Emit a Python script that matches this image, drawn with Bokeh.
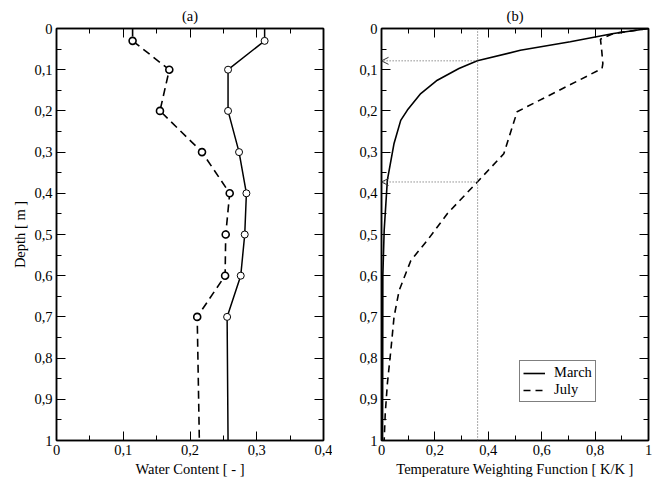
from bokeh.plotting import figure
from bokeh.models import (Range1d, LinearAxis, FixedTicker, CustomJSTickFormatter,
                          Arrow, OpenHead, Legend, LegendItem, Span)
from bokeh.layouts import row
from bokeh.embed import file_html
from bokeh.resources import INLINE

# ---------------- data ----------------
# panel (a): water content profiles
depth_pts = [0.03, 0.1, 0.2, 0.3, 0.4, 0.5, 0.6, 0.7]
wc_dashed = [0.114, 0.169, 0.155, 0.218, 0.2595, 0.2535, 0.2526, 0.2108]
wc_solid = [0.3118, 0.257, 0.257, 0.2735, 0.2845, 0.282, 0.276, 0.2556]
# line continuations to surface and bottom
dashed_line_depth = [0.0] + depth_pts + [1.0]
dashed_line_wc = [0.114] + wc_dashed + [0.214]
solid_line_depth = [0.0] + depth_pts + [1.0]
solid_line_wc = [0.3118] + wc_solid + [0.257]

# panel (b): temperature weighting function
march_depth = [0.0, 0.012, 0.032, 0.053, 0.0785, 0.097, 0.1255, 0.158, 0.198, 0.223,
               0.279, 0.368, 0.49, 0.6, 1.0]
march_w = [1.0, 0.869, 0.707, 0.52, 0.359, 0.29, 0.209, 0.147, 0.097, 0.072,
           0.047, 0.022, 0.01, 0.005, 0.004]
july_depth = [0.0, 0.012, 0.026, 0.055, 0.085, 0.097, 0.202, 0.304, 0.3725, 0.449,
              0.514, 0.563, 0.636, 0.700, 0.781, 0.862, 0.935, 1.0]
july_w = [1.0, 0.87, 0.82, 0.825, 0.829, 0.826, 0.508, 0.458, 0.359, 0.247,
          0.172, 0.11, 0.066, 0.047, 0.035, 0.022, 0.014, 0.01]
ref_w = 0.36
ref_depths = [0.0785, 0.3725]

depth_ticks = [0, 0.1, 0.2, 0.3, 0.4, 0.5, 0.6, 0.7, 0.8, 0.9, 1.0]
depth_minor = [0.05, 0.15, 0.25, 0.35, 0.45, 0.55, 0.65, 0.75, 0.85, 0.95]
wc_ticks = [0, 0.1, 0.2, 0.3, 0.4]
wc_minor = [0.05, 0.15, 0.25, 0.35]
tw_ticks = [0, 0.2, 0.4, 0.6, 0.8, 1.0]
tw_minor = [0.1, 0.3, 0.5, 0.7, 0.9]

FONT = "Liberation Serif"
FS = "14.5px"

fmt_code = "const s = (Math.round(tick*10)/10).toString(); return s.replace('.', ',');"


def style_axis(ax, ticks, minor, labels=True):
    ax.ticker = FixedTicker(ticks=ticks, minor_ticks=minor)
    ax.formatter = CustomJSTickFormatter(code=fmt_code if labels else "return '';")
    ax.major_tick_in = 9
    ax.major_tick_out = 0
    ax.minor_tick_in = 5
    ax.minor_tick_out = 0
    ax.axis_line_width = 1.5
    ax.axis_line_color = "black"
    ax.major_tick_line_color = "black"
    ax.minor_tick_line_color = "black"
    ax.major_tick_line_width = 1
    ax.minor_tick_line_width = 1
    ax.major_label_text_font = FONT
    ax.major_label_text_font_size = FS
    ax.major_label_text_color = "black"
    ax.major_label_standoff = 4 if labels else 0
    ax.axis_label_text_font = FONT
    ax.axis_label_text_font_size = FS
    ax.axis_label_text_font_style = "normal"
    ax.axis_label_text_color = "black"
    ax.axis_label_standoff = 3


def make_fig(title, xr, xticks, xminor, xlabel, ylabel, bl, br):
    p = figure(frame_width=267, frame_height=412, output_backend="svg",
               toolbar_location=None, x_range=xr, y_range=Range1d(1, 0),
               min_border_left=bl, min_border_right=br, min_border_top=28,
               min_border_bottom=34, title=title)
    p.title.align = "center"
    p.title.text_font = FONT
    p.title.text_font_size = FS
    p.title.text_font_style = "normal"
    p.title.text_color = "black"
    p.title.standoff = 9
    p.grid.visible = False
    p.outline_line_color = "black"
    p.outline_line_width = 1.5
    style_axis(p.xaxis[0], xticks, xminor)
    style_axis(p.yaxis[0], depth_ticks, depth_minor)
    p.xaxis[0].axis_label = xlabel
    if ylabel:
        p.yaxis[0].axis_label = ylabel
    top = LinearAxis()
    style_axis(top, xticks, xminor, labels=False)
    p.add_layout(top, "above")
    right = LinearAxis()
    style_axis(right, depth_ticks, depth_minor, labels=False)
    p.add_layout(right, "right")
    p.background_fill_color = "white"
    p.border_fill_color = "white"
    return p


pa = make_fig("(a)", Range1d(0, 0.4), wc_ticks, wc_minor, "Water Content [ - ]",
              "Depth [ m ]", 56, 9)
pa.line(dashed_line_wc, dashed_line_depth, line_color="black", line_width=1.6,
        line_dash="8 5")
pa.line(solid_line_wc, solid_line_depth, line_color="black", line_width=1.5)
pa.scatter(wc_dashed, depth_pts, size=7, fill_color="white", line_color="black",
           line_width=1.6)
pa.scatter(wc_solid, depth_pts, size=7, fill_color="white", line_color="black",
           line_width=1)

pb = make_fig("(b)", Range1d(0, 1), tw_ticks, tw_minor,
              "Temperature Weighting Function [ K/K ]", None, 49, 4)
pb.add_layout(Span(location=ref_w, dimension="height", line_color="#555555",
                   line_width=1, line_dash="1 2"))
for d in ref_depths:
    pb.add_layout(Arrow(x_start=ref_w, y_start=d, x_end=0.0, y_end=d,
                        line_color="#555555", line_width=1, line_dash="1 2",
                        end=OpenHead(size=7, line_color="#333333", line_width=1)))
r_m = pb.line(march_w, march_depth, line_color="black", line_width=1.6)
r_j = pb.line(july_w, july_depth, line_color="black", line_width=1.6,
              line_dash="7 5")
leg = Legend(items=[LegendItem(label="March", renderers=[r_m]),
                    LegendItem(label="July", renderers=[r_j])],
             location=(138, 38))
leg.label_text_font = FONT
leg.label_text_font_size = FS
leg.label_text_color = "black"
leg.border_line_color = "black"
leg.border_line_width = 1
leg.padding = 3
leg.spacing = 0
leg.margin = 0
leg.glyph_width = 22
leg.glyph_height = 14
leg.label_height = 14
leg.label_standoff = 9
leg.background_fill_alpha = 1
pb.add_layout(leg, "center")

layout = row(pa, pb)
open("out.html", "w").write(file_html(layout, INLINE))
